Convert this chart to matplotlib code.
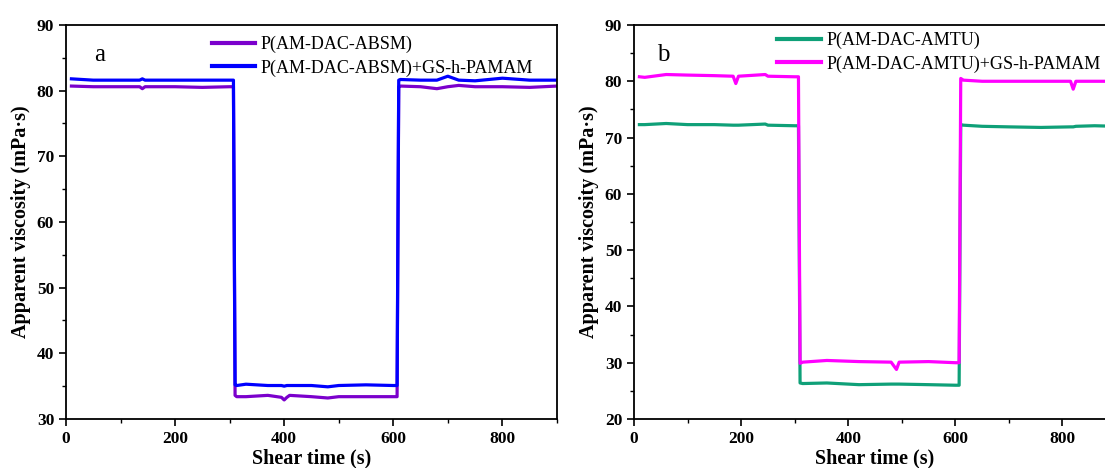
import matplotlib.pyplot as plt
from matplotlib.ticker import MultipleLocator

plt.rcParams['font.family'] = ['Liberation Serif', 'DejaVu Serif']

# panel a: time points (s) and apparent viscosity (mPa*s)
t_a = [10, 50, 100, 135, 140, 145, 200, 250, 300, 307, 310, 313, 330, 370, 395, 400, 405, 410,
       450, 480, 500, 550, 600, 607, 610, 613, 650, 680, 700, 720, 750, 800, 850, 900]
absm = [80.7, 80.6, 80.6, 80.6, 80.3, 80.6, 80.6, 80.5, 80.6, 80.6, 33.6, 33.4, 33.4, 33.6, 33.3,
        32.9, 33.3, 33.6, 33.4, 33.2, 33.4, 33.4, 33.4, 33.4, 80.6, 80.7, 80.6, 80.3, 80.6, 80.8,
        80.6, 80.6, 80.5, 80.7]
absm_gs = [81.8, 81.6, 81.6, 81.6, 81.8, 81.6, 81.6, 81.6, 81.6, 81.6, 35.2, 35.1, 35.3, 35.1, 35.1,
           35.0, 35.1, 35.1, 35.1, 34.9, 35.1, 35.2, 35.1, 35.1, 81.6, 81.7, 81.6, 81.6, 82.2, 81.6,
           81.5, 81.9, 81.6, 81.6]

# panel b
t_b = [10, 20, 60, 100, 150, 185, 190, 195, 245, 250, 300, 307, 310, 315, 360, 420, 480, 490, 495,
       550, 600, 607, 610, 615, 650, 700, 760, 815, 820, 825, 860, 900]
amtu = [72.3, 72.3, 72.5, 72.3, 72.3, 72.2, 72.2, 72.2, 72.4, 72.2, 72.1, 72.1, 26.4, 26.3, 26.4,
        26.1, 26.2, 26.2, 26.2, 26.1, 26.0, 26.0, 72.3, 72.2, 72.0, 71.9, 71.8, 71.9, 71.9, 72.0,
        72.1, 72.0]
amtu_gs = [80.8, 80.7, 81.2, 81.1, 81.0, 80.9, 79.6, 80.9, 81.2, 80.9, 80.8, 80.8, 29.9, 30.1, 30.4,
           30.2, 30.1, 28.8, 30.1, 30.2, 30.0, 30.0, 80.5, 80.2, 80.0, 80.0, 80.0, 80.0, 78.6, 80.0,
           80.0, 80.0]

fig = plt.figure(figsize=(11.05, 4.68), dpi=100)
ax1 = fig.add_axes([0.0597, 0.1047, 0.4443, 0.8419])
ax2 = fig.add_axes([0.5738, 0.1047, 0.4362, 0.8419])

ax1.plot(t_a, absm, color='#7B00CC', lw=2.3, label='P(AM-DAC-ABSM)')
ax1.plot(t_a, absm_gs, color='#0000FF', lw=2.3, label='P(AM-DAC-ABSM)+GS-h-PAMAM')
ax1.set_ylim(30, 90)
ax1.text(0.069, 0.925, 'a', transform=ax1.transAxes, fontsize=18, ha='center', va='center')

ax2.plot(t_b, amtu, color='#0FA078', lw=2.3, label='P(AM-DAC-AMTU)')
ax2.plot(t_b, amtu_gs, color='#FF00FF', lw=2.3, label='P(AM-DAC-AMTU)+GS-h-PAMAM')
ax2.set_ylim(20, 90)
ax2.text(0.06, 0.925, 'b', transform=ax2.transAxes, fontsize=18, ha='center', va='center')

legend_x = {ax1: 0.275, ax2: 0.275}
legend_y = {ax1: 1.0, ax2: 1.01}

for ax in (ax1, ax2):
    ax.set_xlim(0, 900)
    ax.xaxis.set_major_locator(MultipleLocator(200))
    ax.xaxis.set_minor_locator(MultipleLocator(100))
    ax.yaxis.set_major_locator(MultipleLocator(10))
    ax.yaxis.set_minor_locator(MultipleLocator(5))
    ax.tick_params(which='major', direction='out', length=5, width=1.2, labelsize=12.5)
    ax.tick_params(which='minor', direction='out', length=3, width=1)
    for lab in ax.get_xticklabels() + ax.get_yticklabels():
        lab.set_fontweight('bold')
    for s in ax.spines.values():
        s.set_linewidth(1.3)
    ax.set_xlabel('Shear time (s)', fontsize=14.5, fontweight='bold', labelpad=1)
    ax.set_ylabel('Apparent viscosity (mPa\u00b7s)', fontsize=14.5, fontweight='bold', labelpad=4)
    leg = ax.legend(loc='upper left', bbox_to_anchor=(legend_x[ax], legend_y[ax]), frameon=False,
                    fontsize=13, handlelength=2.4, handletextpad=0.3, labelspacing=0.35,
                    borderaxespad=0.2)
    for h in leg.get_lines():
        h.set_linewidth(3)

fig.savefig('out.png', dpi=100)
